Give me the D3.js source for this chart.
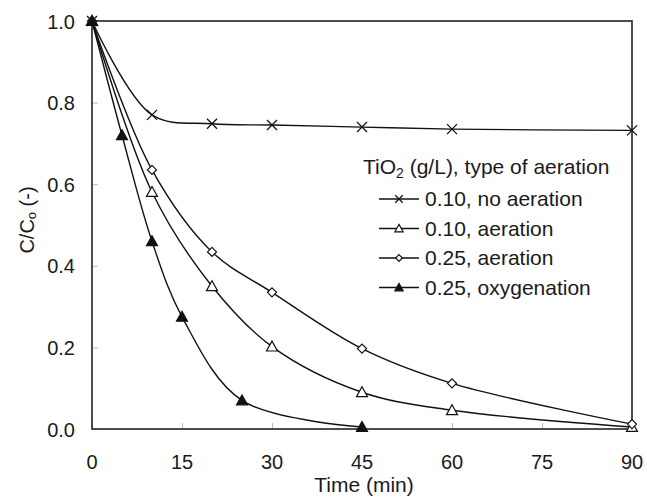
<!DOCTYPE html>
<html><head><meta charset="utf-8">
<script src="https://cdn.jsdelivr.net/npm/d3@7"></script>
<style>body{margin:0;background:#fff;}svg{display:block;font-family:"Liberation Sans",Arial,sans-serif;}</style>
</head><body><svg id="c" width="647" height="498"></svg>
<script>
const xTicks = [0, 15, 30, 45, 60, 75, 90];
const yTicks = [0.0, 0.2, 0.4, 0.6, 0.8, 1.0];
const seriesNames = ["0.10, no aeration", "0.10, aeration", "0.25, aeration", "0.25, oxygenation"];
const seriesMarkers = ["cross", "triangleOpen", "diamond", "triangleFilled"];
const tNoAer = [0, 10, 20, 30, 45, 60, 90];
const vNoAer = [1.0, 0.77, 0.748, 0.745, 0.74, 0.735, 0.732];
const tAer10 = [0, 10, 20, 30, 45, 60, 90];
const vAer10 = [1.0, 0.581, 0.35, 0.202, 0.09, 0.046, 0.005];
const tAer25 = [0, 10, 20, 30, 45, 60, 90];
const vAer25 = [1.0, 0.635, 0.434, 0.335, 0.197, 0.112, 0.012];
const tOxy = [0, 5, 10, 15, 25, 45];
const vOxy = [1.0, 0.72, 0.46, 0.275, 0.07, 0.005];

const series = [
  {name: seriesNames[0], marker: seriesMarkers[0], t: tNoAer, v: vNoAer},
  {name: seriesNames[1], marker: seriesMarkers[1], t: tAer10, v: vAer10},
  {name: seriesNames[2], marker: seriesMarkers[2], t: tAer25, v: vAer25},
  {name: seriesNames[3], marker: seriesMarkers[3], t: tOxy, v: vOxy}
];

const svg = d3.select("#c");
const m = {l: 92, r: 632, t: 21, b: 429};
const x = d3.scaleLinear().domain([0, 90]).range([m.l, m.r]);
const y = d3.scaleLinear().domain([0, 1]).range([m.b, m.t]);
const txt = "#1a1a1a";

// inner ticks
svg.append("g").attr("transform", `translate(0,${m.b})`)
  .call(d3.axisTop(x).tickValues(xTicks).tickSize(6).tickFormat(""))
  .call(g => { g.select(".domain").remove(); g.selectAll("line").attr("stroke", "#bbb"); });
svg.append("g").attr("transform", `translate(${m.l},0)`)
  .call(d3.axisRight(y).tickValues(yTicks).tickSize(6).tickFormat(""))
  .call(g => { g.select(".domain").remove(); g.selectAll("line").attr("stroke", "#bbb"); });

// frame
svg.append("rect").attr("x", m.l).attr("y", m.t).attr("width", m.r - m.l).attr("height", m.b - m.t)
  .attr("fill", "none").attr("stroke", "#222").attr("stroke-width", 1.6);

// tick labels
svg.append("g").selectAll("text").data(xTicks).join("text")
  .attr("x", d => x(d)).attr("y", 469).attr("text-anchor", "middle")
  .attr("font-size", 20).attr("fill", txt).text(d => d);
svg.append("g").selectAll("text").data(yTicks).join("text")
  .attr("x", 75).attr("y", d => y(d) + 7.5).attr("text-anchor", "end")
  .attr("font-size", 20).attr("fill", txt).text(d => d.toFixed(1));

// axis titles
svg.append("text").attr("x", 364).attr("y", 492).attr("text-anchor", "middle")
  .attr("font-size", 21).attr("fill", txt).text("Time (min)");
const yl = svg.append("text").attr("transform", "translate(34,220) rotate(-90)")
  .attr("text-anchor", "middle").attr("font-size", 20).attr("fill", txt);
yl.append("tspan").text("C/C");
yl.append("tspan").attr("font-size", 13).attr("dy", 2).text("o");
yl.append("tspan").attr("dy", -2).text(" (-)");

const line = d3.line().x(d => x(d[0])).y(d => y(d[1])).curve(d3.curveCatmullRom.alpha(0.5));

function drawMarker(g, type, cx, cy, k) {
  k = k || 1;
  if (type === "cross") {
    const s = 5 * k;
    g.append("path").attr("d", `M${cx-s},${cy-s}L${cx+s},${cy+s}M${cx-s},${cy+s}L${cx+s},${cy-s}`)
      .attr("stroke", "#111").attr("stroke-width", 1.3).attr("fill", "none");
  } else if (type === "triangleOpen" || type === "triangleFilled") {
    const s = 5.5 * k;
    g.append("path").attr("d", `M${cx},${cy-s}L${cx+s},${cy+s*0.8}L${cx-s},${cy+s*0.8}Z`)
      .attr("stroke", "#111").attr("stroke-width", 1.2)
      .attr("fill", type === "triangleFilled" ? "#111" : "#fff");
  } else if (type === "diamond") {
    const s = 4.5 * k;
    g.append("path").attr("d", `M${cx},${cy-s}L${cx+s},${cy}L${cx},${cy+s}L${cx-s},${cy}Z`)
      .attr("stroke", "#111").attr("stroke-width", 1.2).attr("fill", "#fff");
  }
}

series.forEach(s => {
  const pts = s.t.map((t, i) => [t, s.v[i]]);
  svg.append("path").attr("d", line(pts)).attr("fill", "none").attr("stroke", "#111").attr("stroke-width", 1.4);
});
series.forEach(s => {
  const g = svg.append("g");
  s.t.forEach((t, i) => drawMarker(g, s.marker, x(t), y(s.v[i])));
});

// legend
const lg = svg.append("g");
const title = lg.append("text").attr("x", 363).attr("y", 174).attr("font-size", 21).attr("fill", txt);
title.append("tspan").text("TiO");
title.append("tspan").attr("font-size", 14).attr("dy", 4).text("2");
title.append("tspan").attr("dy", -4).text(" (g/L), type of aeration");
series.forEach((s, i) => {
  const cy = 199 + i * 29.5;
  lg.append("line").attr("x1", 379).attr("x2", 419).attr("y1", cy).attr("y2", cy)
    .attr("stroke", "#111").attr("stroke-width", 1.4);
  drawMarker(lg, s.marker, 399, cy, 0.75);
  lg.append("text").attr("x", 425).attr("y", cy + 7).attr("font-size", 21).attr("fill", txt).text(s.name);
});
</script></body></html>
